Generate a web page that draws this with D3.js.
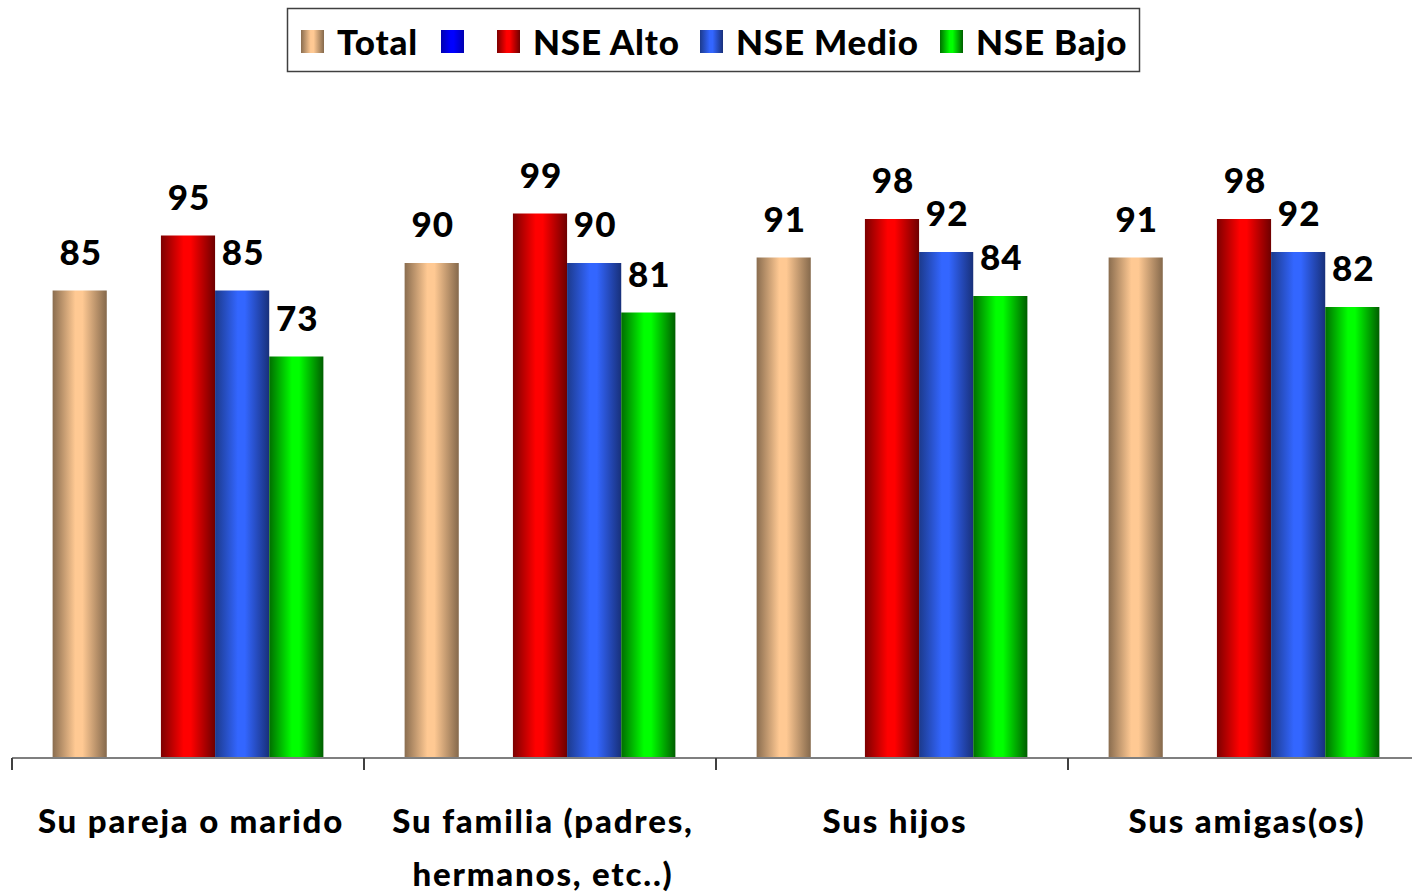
<!DOCTYPE html>
<html><head><meta charset="utf-8">
<script src="https://cdn.jsdelivr.net/npm/d3@7"></script>
<style>body{margin:0;background:#fff}svg{display:block}</style>
</head><body>
<svg id="chart" width="1412" height="895"></svg>
<script>
const categories = ["Su pareja o marido", "Su familia (padres, hermanos, etc..)", "Sus hijos", "Sus amigas(os)"];
const seriesNames = ["Total", "", "NSE Alto", "NSE Medio", "NSE Bajo"];
const totalValues = [85, 90, 91, 91];
const blankValues = [null, null, null, null];
const altoValues = [95, 99, 98, 98];
const medioValues = [85, 90, 92, 92];
const bajoValues = [73, 81, 84, 82];
const seriesValues = [totalValues, blankValues, altoValues, medioValues, bajoValues];
const seriesColors = [
  ["#8a6d4f", "#ffc993", "#85694c"],
  ["#0000b0", "#0000ff", "#0000b0"],
  ["#7d0000", "#ff0000", "#6e0000"],
  ["#1c3a8c", "#3366ff", "#18307a"],
  ["#006e00", "#00ff00", "#005e00"]
];

const svg = d3.select("#chart");
const font = "Lato, 'Open Sans', sans-serif";
const defs = svg.append("defs");
seriesColors.forEach((c, i) => {
  const g = defs.append("linearGradient").attr("id", "g" + i).attr("x1", "0").attr("x2", "1").attr("y1", "0").attr("y2", "0");
  g.append("stop").attr("offset", "0%").attr("stop-color", c[0]);
  g.append("stop").attr("offset", "42%").attr("stop-color", c[1]);
  g.append("stop").attr("offset", "55%").attr("stop-color", c[1]);
  g.append("stop").attr("offset", "100%").attr("stop-color", c[2]);
});

const x0 = d3.scaleBand().domain(categories).range([12, 1420]).padding(0);
const x1 = d3.scaleBand().domain(d3.range(seriesNames.length)).range([0, x0.bandwidth()]).paddingInner(0).paddingOuter(0.75);
const y = d3.scaleLinear().domain([0, 100]).range([758, 208]);

const groups = svg.append("g").selectAll("g").data(categories).join("g")
  .attr("transform", d => `translate(${x0(d)},0)`);

groups.each(function(cat, ci) {
  const g = d3.select(this);
  const data = seriesValues.map((vals, si) => ({si, v: vals[ci]})).filter(d => d.v != null);
  g.selectAll("rect").data(data).join("rect")
    .attr("x", d => x1(d.si))
    .attr("width", x1.bandwidth())
    .attr("y", d => y(d.v))
    .attr("height", d => y(0) - y(d.v))
    .attr("fill", d => `url(#g${d.si})`);
  g.selectAll("text").data(data).join("text")
    .attr("x", d => x1(d.si) + x1.bandwidth() / 2 + 1)
    .attr("y", d => y(d.v) - 26)
    .attr("text-anchor", "middle")
    .attr("font-family", font).attr("font-weight", 900).attr("font-size", 35)
    .attr("letter-spacing", 1)
    .attr("fill", "#000")
    .text(d => d.v);
});

// axis
const axis = svg.append("g");
axis.append("line").attr("x1", 12).attr("x2", 1412).attr("y1", y(0)).attr("y2", y(0))
  .attr("stroke", "#7f7f7f").attr("stroke-width", 2);
const tickXs = categories.map(c => x0(c)).concat([x0.range()[1]]);
axis.selectAll("line.tick").data(tickXs).join("line").attr("class", "tick")
  .attr("x1", d => d).attr("x2", d => d).attr("y1", y(0)).attr("y2", y(0) + 12)
  .attr("stroke", "#404040").attr("stroke-width", 2);

// category labels with wrapping
const labels = svg.append("g").selectAll("text").data(categories).join("text")
  .attr("text-anchor", "middle")
  .attr("font-family", font).attr("font-weight", 900).attr("font-size", 33)
  .attr("letter-spacing", 1.8)
  .attr("fill", "#000");
labels.each(function(cat) {
  const t = d3.select(this);
  const cx = x0(cat) + x0.bandwidth() / 2 + 3;
  const words = cat.split(" ");
  let lines = [], line = [];
  const tmp = t.append("tspan");
  words.forEach(w => {
    line.push(w);
    tmp.text(line.join(" "));
    if (tmp.node().getComputedTextLength() > 345 && line.length > 1) {
      line.pop(); lines.push(line.join(" ")); line = [w];
    }
  });
  lines.push(line.join(" "));
  tmp.remove();
  lines.forEach((l, i) => {
    t.append("tspan").attr("x", cx).attr("y", 833 + i * 53).text(l);
  });
});

// legend
const legend = svg.append("g");
legend.append("rect").attr("x", 287.5).attr("y", 8.5).attr("width", 852).attr("height", 63)
  .attr("fill", "#fff").attr("stroke", "#404040").attr("stroke-width", 1.5);
const legendX = [301, 441, 497, 700, 940];
seriesNames.forEach((n, i) => {
  legend.append("rect").attr("x", legendX[i]).attr("y", 30).attr("width", 23).attr("height", 23)
    .attr("fill", `url(#g${i})`);
  if (n) legend.append("text").attr("x", legendX[i] + 36).attr("y", 55)
    .attr("font-family", font).attr("font-weight", 900).attr("font-size", 35)
    .attr("letter-spacing", 0.8)
    .attr("fill", "#000").text(n);
});
</script>
</body></html>
